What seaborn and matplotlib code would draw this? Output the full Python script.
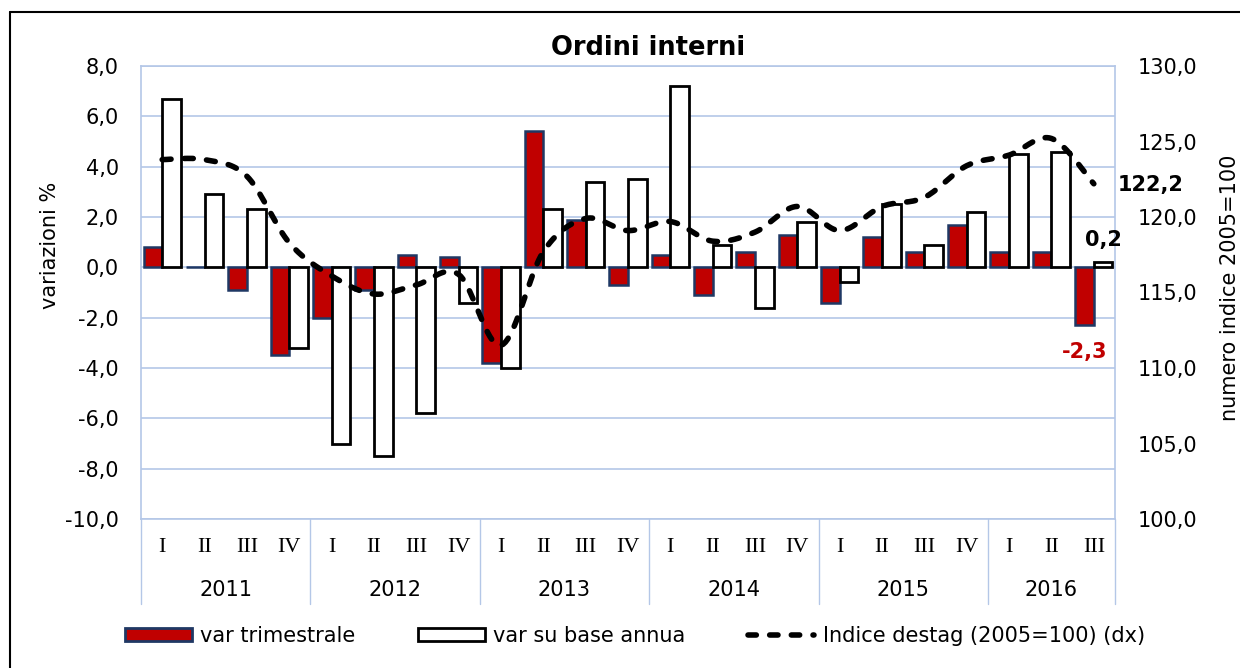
import numpy as np
import pandas as pd
import matplotlib
matplotlib.use("Agg")
import matplotlib.pyplot as plt
from matplotlib.patches import Patch
from matplotlib.lines import Line2D
import seaborn as sns

# data
years = ["2011", "2012", "2013", "2014", "2015", "2016"]
quarters_per_year = [4, 4, 4, 4, 4, 3]
quarter_names = ["I", "II", "III", "IV"]

var_trim = [0.8, 0.0, -0.9, -3.5,
            -2.0, -0.9, 0.5, 0.4,
            -3.8, 5.4, 1.9, -0.7,
            0.5, -1.1, 0.6, 1.3,
            -1.4, 1.2, 0.6, 1.7,
            0.6, 0.6, -2.3]
var_annua = [6.7, 2.9, 2.3, -3.2,
             -7.0, -7.5, -5.8, -1.4,
             -4.0, 2.3, 3.4, 3.5,
             7.2, 0.9, -1.6, 1.8,
             -0.6, 2.5, 0.9, 2.2,
             4.5, 4.6, 0.2]
indice = [123.8, 123.8, 122.7, 118.3,
          116.1, 114.9, 115.5, 116.2,
          111.5, 117.7, 119.9, 119.1,
          119.7, 118.4, 119.0, 120.7,
          119.1, 120.7, 121.3, 123.4,
          124.1, 125.2, 122.2]

labels = []
for y, n in zip(years, quarters_per_year):
    for q in quarter_names[:n]:
        labels.append(f"{q} {y}")

df = pd.DataFrame({
    "periodo": labels * 2,
    "valore": var_trim + var_annua,
    "serie": ["var trimestrale"] * len(labels) + ["var su base annua"] * len(labels),
})

sns.set_theme(style="white")
plt.rcParams["font.family"] = ["DejaVu Sans"]
plt.rcParams["text.color"] = "black"
plt.rcParams["axes.labelcolor"] = "black"
plt.rcParams["xtick.color"] = "black"
plt.rcParams["ytick.color"] = "black"

RED = "#C00000"
NAVY = "#1F3864"
GRID = "#B4C7E7"
FS = 15

fig = plt.figure(figsize=(12.4, 6.68), dpi=100)
ax = fig.add_axes([141 / 1240, 1 - 519 / 668, 974 / 1240, 453 / 668])

sns.barplot(data=df, x="periodo", y="valore", hue="serie",
            palette={"var trimestrale": RED, "var su base annua": "white"},
            saturation=1, width=0.88, gap=0, legend=False, ax=ax, zorder=3)
for i, bar in enumerate(ax.patches):
    if i < len(labels):
        bar.set_edgecolor(NAVY)
        bar.set_linewidth(1.8)
    else:
        bar.set_edgecolor("black")
        bar.set_linewidth(2.0)

ax.set_xlim(-0.5, len(labels) - 0.5)
ax.set_ylim(-10, 8)
ticks1 = np.arange(-10, 8.1, 2)
ax.set_yticks(ticks1)
ax.set_yticklabels([f"{v:.1f}".replace(".", ",") for v in ticks1], fontsize=FS)
ax.yaxis.grid(True, color=GRID, lw=1.2, zorder=0)
ax.set_axisbelow(True)
ax.set_xticks([])
ax.set_xlabel("")
ax.set_ylabel("")
for s in ax.spines.values():
    s.set_color(GRID)
    s.set_linewidth(1.2)
ax.tick_params(axis="y", length=0, pad=16)

# secondary axis with smoothed index line
ax2 = ax.twinx()
ax2.set_ylim(100, 130)
ticks2 = np.arange(100, 130.1, 5)
ax2.set_yticks(ticks2)
ax2.set_yticklabels([f"{v:.1f}".replace(".", ",") for v in ticks2], fontsize=FS)
ax2.tick_params(axis="y", length=0, pad=16)
for s in ax2.spines.values():
    s.set_visible(False)
ax2.grid(False)

# Bezier smoothing like Excel's smoothed line
xs = np.arange(len(indice), dtype=float)
ys = np.array(indice)
px = np.concatenate([[xs[0]], xs, [xs[-1]]])
py = np.concatenate([[ys[0]], ys, [ys[-1]]])
sx, sy = [], []
t = np.linspace(0, 1, 20)
for k in range(1, len(px) - 2):
    p0x, p1x, p2x, p3x = px[k - 1:k + 3]
    p0y, p1y, p2y, p3y = py[k - 1:k + 3]
    c1x, c1y = p1x + (p2x - p0x) / 6, p1y + (p2y - p0y) / 6
    c2x, c2y = p2x - (p3x - p1x) / 6, p2y - (p3y - p1y) / 6
    bx = (1 - t) ** 3 * p1x + 3 * (1 - t) ** 2 * t * c1x + 3 * (1 - t) * t ** 2 * c2x + t ** 3 * p2x
    by = (1 - t) ** 3 * p1y + 3 * (1 - t) ** 2 * t * c1y + 3 * (1 - t) * t ** 2 * c2y + t ** 3 * p2y
    sx.extend(bx)
    sy.extend(by)
ax2.plot(sx, sy, color="black", lw=4, dashes=(1.6, 2.4), dash_capstyle="round", zorder=5)

# data labels at the last quarter
ax2.text(len(labels) - 0.5 + 0.07, 122.1, "122,2", fontsize=FS, fontweight="bold",
         ha="left", va="center", clip_on=False)
ax.text(22.23, 1.1, "0,2", fontsize=FS, fontweight="bold", ha="center", va="center", zorder=6)
ax.text(21.79, -3.35, "-2,3", fontsize=FS, fontweight="bold", color=RED,
        ha="center", va="center", zorder=6)

# two-level category axis
tr = ax.get_xaxis_transform()
pos = 0
for y, n in zip(years, quarters_per_year):
    for j in range(n):
        ax.text(pos + j, -0.064, quarter_names[j], transform=tr, ha="center", va="center",
                fontsize=16, family=["Liberation Serif", "DejaVu Serif"])
    ax.text(pos + (n - 1) / 2, -0.157, y, transform=tr, ha="center", va="center", fontsize=FS)
    ax.plot([pos - 0.5, pos - 0.5], [0, -0.188], transform=tr, color=GRID, lw=1, clip_on=False)
    pos += n
ax.plot([pos - 0.5, pos - 0.5], [0, -0.188], transform=tr, color=GRID, lw=1, clip_on=False)

fig.text(648 / 1240, 1 - 48 / 668, "Ordini interni", fontsize=18.5, fontweight="bold",
         ha="center", va="center")
fig.text(50 / 1240, 1 - 245 / 668, "variazioni %", rotation=90, fontsize=FS,
         ha="center", va="center")
fig.text(1230 / 1240, 1 - 288 / 668, "numero indice 2005=100", rotation=90, fontsize=FS,
         ha="center", va="center")

handles = [
    Patch(facecolor=RED, edgecolor=NAVY, linewidth=2),
    Patch(facecolor="white", edgecolor="black", linewidth=2),
    Line2D([0], [0], color="black", lw=4, dashes=(1.5, 2.4), dash_capstyle="round"),
]
fig.legend(handles, ["var trimestrale", "var su base annua", "Indice destag (2005=100) (dx)"],
           loc="center", bbox_to_anchor=(635 / 1240, 1 - 636 / 668), ncol=3, frameon=False,
           fontsize=FS, handlelength=3.2, handleheight=0.6, handletextpad=0.4, columnspacing=3.0)

# outer chart border
fig.add_artist(Line2D([9.5 / 1240, 9.5 / 1240], [0, 1 - 12 / 668], color="black", lw=1.5,
                      transform=fig.transFigure))
fig.add_artist(Line2D([9.5 / 1240, 1], [1 - 12 / 668, 1 - 12 / 668], color="black", lw=1.5,
                      transform=fig.transFigure))

fig.savefig("out.png", dpi=100)
